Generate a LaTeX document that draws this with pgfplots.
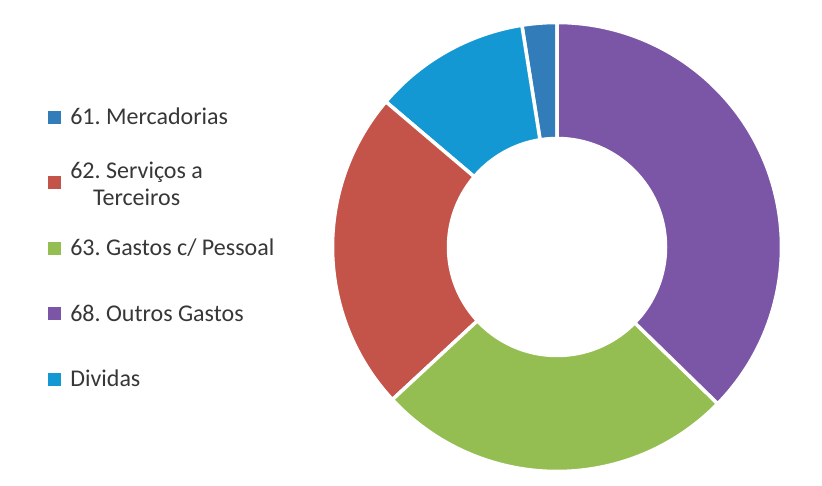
\documentclass[border=0pt]{standalone}
\usepackage{fontspec}
\setmainfont{Carlito}
\usepackage{pgfplots}
\pgfplotsset{compat=1.18}
\usepackage{pgfplotstable}
\definecolor{c61}{RGB}{50,125,185}
\definecolor{cdiv}{RGB}{20,152,212}
\definecolor{c62}{RGB}{196,84,74}
\definecolor{c63}{RGB}{148,190,82}
\definecolor{c68}{RGB}{124,86,166}
\definecolor{legtext}{RGB}{55,55,55}
\frenchspacing

% slices, counter-clockwise from the top (percent)
\pgfplotstableread{
value col
2.5 c61
11.3 cdiv
23.1 c62
25.8 c63
37.3 c68
}\slices

\begin{document}
\begin{tikzpicture}
\begin{axis}[
  x=1pt, y=1pt, xmin=0, xmax=822, ymin=0, ymax=482,
  scale only axis, hide axis, clip=false,
  axis background/.style={fill=white},
  legend cell align=left,
  legend style={at={(axis cs:47.7,398)}, anchor=north west, draw=none, fill=none,
    inner sep=0pt, row sep=0pt, column sep=10pt,
    font=\fontsize{24}{27.3}\selectfont, text=legtext,
    nodes={inner sep=0pt, minimum height=65.5pt, text height=15.5pt, text depth=0pt}},
]
\pgfmathsetmacro\cum{90}
\pgfplotsforeachungrouped \i in {0,...,4}{%
  \pgfplotstablegetelem{\i}{value}\of\slices \let\v\pgfplotsretval
  \pgfplotstablegetelem{\i}{col}\of\slices \let\c\pgfplotsretval
  \pgfmathsetmacro\a{\cum}%
  \pgfmathsetmacro\b{\cum+3.6*\v}%
  \edef\doit{\noexpand\filldraw[fill=\c, draw=white, line width=3.5pt, line join=miter]
    (axis cs:557,235) ++(\a:224.5pt) arc[start angle=\a, end angle=\b, radius=224.5pt]
    -- ++(\b:-116pt) arc[start angle=\b, end angle=\a, radius=108.5pt] -- cycle;}%
  \doit
  \let\cum\b
}
\addlegendimage{legend image code/.code={\fill[c61] (0pt,-6pt) rectangle (12pt,6pt);}}
\addlegendentry{61. Mercadorias}
\addlegendimage{legend image code/.code={\fill[c62] (0pt,-6pt) rectangle (12pt,6pt);}}
\addlegendentry{\raisebox{-15.6pt}[15.5pt][0pt]{\begin{tabular}[b]{@{}c@{}}62. Serviços a\\Terceiros\end{tabular}}}
\addlegendimage{legend image code/.code={\fill[c63] (0pt,-6pt) rectangle (12pt,6pt);}}
\addlegendentry{63. Gastos c/ Pessoal}
\addlegendimage{legend image code/.code={\fill[c68] (0pt,-6pt) rectangle (12pt,6pt);}}
\addlegendentry{68. Outros Gastos}
\addlegendimage{legend image code/.code={\fill[cdiv] (0pt,-6pt) rectangle (12pt,6pt);}}
\addlegendentry{Dividas}
\end{axis}
\end{tikzpicture}
\end{document}
